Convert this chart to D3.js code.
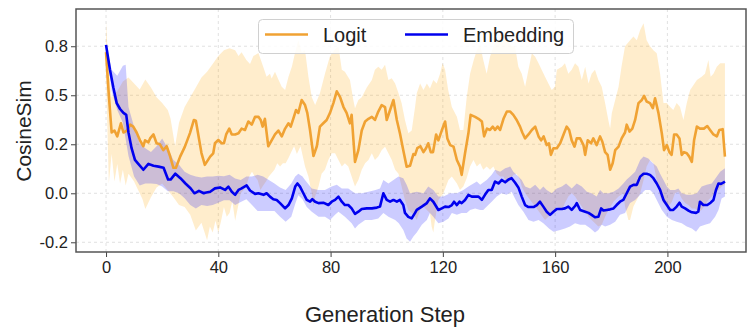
<!DOCTYPE html>
<html><head><meta charset="utf-8">
<script src="https://cdn.jsdelivr.net/npm/d3@7"></script>
<style>
html,body{margin:0;padding:0;background:#fff;}
text{font-family:"Liberation Sans",Arial,Helvetica,sans-serif;fill:#222;}
</style></head>
<body><svg id="chart" width="747" height="328"></svg>
<script>
// ---------- DATA ----------
const seriesNames = ["Logit", "Embedding"];
const xTicks = [0, 40, 80, 120, 160, 200];
const yTicks = [0.75, 0.5, 0.25, 0, -0.25];
const yTickLabels = ["0.8", "0.5", "0.2", "0.0", "-0.2"];

// Logit mean
const logitStep = [0,1,2,3,4,5.3,6.2,7.4,8.6,9.7,10.9,12.1,13.3,13.9,15.1,15.7,16.9,18,19.2,20.4,21.6,22.8,24,24.9,26.4,28.1,29.9,31.3,32,34,35.2,37.1,38.2,38.8,40,41.2,42,42.8,43.9,44.8,46,47.2,48.3,49.5,50.7,51.9,53.1,54.3,55.1,55.8,56.6,57.8,59,60.2,61.4,62.6,63.8,65,65.8,66.7,67.7,68.5,69.7,70.9,71.7,72.7,73.9,75.1,76.2,77.4,78.6,79.8,81,82.2,83.4,84.6,85.7,86.9,87.5,88.7,89.9,91.1,92.3,93.5,94.7,95.8,97,98.2,99.4,100,101.2,102.4,103.6,104.7,105.9,107.1,108.3,109.5,110.1,110.9,112,113.1,114,114.8,115.7,116.5,117.6,118.4,119.6,120.8,121.6,122.6,123.8,125,126.1,126.7,127.9,129.1,129.9,131.5,132.7,133.9,134.7,135.7,136.8,137.8,138.6,139.5,140.4,141.6,142.8,144,145.1,146.3,147.5,148.3,149.3,150.5,151.7,152.9,154.1,155,155.9,157,157.8,158.5,159.4,160.6,161.8,163,164.1,165,165.9,166.9,167.7,168.9,170.1,170.7,171.6,172.8,173.6,174.8,176,176.8,177.8,178.7,179.6,180.5,181.4,182.6,183.7,184.9,185.5,186.5,187.5,188.5,189.7,190.9,191.7,192.6,193.8,194.8,195.6,196.8,198,198.8,199.8,200.7,201.5,202.4,203.3,204.3,205.1,205.9,206.9,207.8,208.7,209.5,210.5,211.6,213,214.2,215.2,216.4,217.6,218.5,219.7,220.5];
const logitMean = [0.72,0.50,0.31,0.32,0.29,0.357,0.31,0.32,0.35,0.34,0.31,0.27,0.24,0.27,0.26,0.28,0.30,0.255,0.25,0.22,0.24,0.19,0.13,0.13,0.187,0.238,0.307,0.374,0.37,0.205,0.145,0.187,0.204,0.255,0.272,0.255,0.255,0.30,0.33,0.30,0.30,0.306,0.33,0.323,0.366,0.35,0.39,0.39,0.374,0.34,0.38,0.24,0.27,0.30,0.32,0.29,0.33,0.357,0.34,0.38,0.425,0.41,0.476,0.45,0.41,0.32,0.19,0.24,0.34,0.357,0.374,0.41,0.46,0.52,0.49,0.44,0.41,0.357,0.40,0.16,0.22,0.32,0.366,0.38,0.39,0.374,0.417,0.45,0.44,0.374,0.425,0.476,0.374,0.306,0.22,0.136,0.14,0.2,0.196,0.23,0.24,0.21,0.23,0.255,0.21,0.21,0.30,0.27,0.32,0.366,0.28,0.246,0.238,0.17,0.136,0.094,0.204,0.306,0.40,0.39,0.38,0.366,0.29,0.33,0.323,0.34,0.323,0.34,0.323,0.38,0.417,0.417,0.40,0.374,0.34,0.31,0.28,0.30,0.323,0.34,0.29,0.27,0.29,0.246,0.255,0.196,0.23,0.23,0.255,0.30,0.34,0.323,0.27,0.238,0.28,0.28,0.246,0.196,0.27,0.255,0.28,0.246,0.29,0.264,0.21,0.196,0.12,0.153,0.22,0.238,0.28,0.31,0.35,0.315,0.33,0.374,0.46,0.476,0.497,0.468,0.46,0.434,0.485,0.41,0.306,0.22,0.246,0.21,0.196,0.30,0.30,0.28,0.196,0.21,0.204,0.187,0.16,0.27,0.34,0.33,0.33,0.343,0.323,0.30,0.29,0.323,0.327,0.187];

// Logit band (upper / lower)
const logitHiStep = [0,1,2,4,6,8,10,12,14,16,18,20,22,23,24.6,26,28,30,32,34,36,38,40,42,44,46,47.2,48.3,50,51.3,52.5,54.3,56,57.2,58.4,59,60.2,61.4,62.6,63.8,65,66.2,67.3,68.5,69.7,70.9,72.1,73.3,74.5,76.2,78,79.8,81.6,82.8,84,85.1,86.9,88.1,88.7,89.9,91.1,92.9,94.7,95.8,97,98.2,99.4,100.6,101.8,103,104.2,105.3,106.5,107.7,108.9,110.1,110.7,111.9,113.1,114.3,115.4,116.6,117.8,119,119.9,120.8,121.9,123.2,125,126.1,127.3,128.5,129.7,131,132.1,133.3,134.4,135.6,136.8,138,139.2,141,142.8,144.5,145.7,146.9,148.1,149.3,150.5,151.7,152.9,154.1,155.2,156.4,157.6,158.8,159.9,160.6,162.4,163.5,164.7,165.9,167.1,168.3,169.5,170.7,171.9,173,174.2,175.4,176.6,177.8,179,179.6,180.2,181.4,182.6,183.7,184.9,186.7,187.9,189.1,190.3,191.5,192.6,193.8,195,196.2,197.4,198.6,199.8,201,202.1,203.3,204.5,205.7,206.9,208.1,210.5,212.2,213.4,214.6,215.4,216.4,217.6,218.8,220.5];
const logitHi = [0.875,0.62,0.49,0.52,0.57,0.59,0.56,0.53,0.58,0.54,0.49,0.46,0.425,0.38,0.24,0.36,0.44,0.49,0.54,0.59,0.62,0.66,0.70,0.73,0.74,0.73,0.70,0.72,0.68,0.66,0.70,0.715,0.646,0.595,0.61,0.585,0.62,0.58,0.544,0.527,0.595,0.646,0.714,0.78,0.72,0.73,0.595,0.49,0.45,0.51,0.61,0.70,0.735,0.75,0.63,0.62,0.578,0.476,0.434,0.476,0.49,0.54,0.578,0.63,0.646,0.63,0.655,0.578,0.587,0.56,0.51,0.46,0.374,0.306,0.32,0.44,0.51,0.56,0.527,0.56,0.535,0.578,0.56,0.61,0.663,0.63,0.527,0.44,0.39,0.323,0.323,0.49,0.61,0.68,0.73,0.757,0.68,0.61,0.697,0.75,0.78,0.8,0.78,0.75,0.75,0.646,0.61,0.544,0.63,0.714,0.697,0.663,0.63,0.595,0.56,0.527,0.544,0.63,0.646,0.663,0.61,0.63,0.663,0.646,0.578,0.646,0.56,0.61,0.63,0.578,0.544,0.46,0.37,0.33,0.41,0.476,0.544,0.65,0.75,0.78,0.8,0.78,0.833,0.867,0.78,0.75,0.73,0.714,0.61,0.46,0.46,0.44,0.425,0.46,0.44,0.374,0.46,0.527,0.578,0.595,0.61,0.68,0.595,0.61,0.646,0.663,0.663];
const logitLoStep = [0,1,2,3,4,5,6,7,8,9,10,11,12,13,14,16,18,20,22,24,26,28,30,32,34,36,37,38,39,40,41,42,43,44,45,46,47,48,49,50,51,52,53,54,55,56,57,58,60,61,62,63,64,65,66,67,68,69.3,70.9,72.1,73.3,73.9,74.5,75.7,76.8,78,79.2,80.4,81.6,82.8,84,85.1,86.3,87.5,88.7,89.9,91.1,92.3,93.5,94.7,95.8,97,98.2,99.4,100.6,101.8,103,104.2,105.3,106.5,107.7,108.9,110.1,110.7,111.9,113.1,114.3,115.4,116,116.6,117.2,118.4,120.2,122,123.2,125,126.1,127.3,128.5,129.7,130.9,132.1,133.3,134.4,135.6,136.8,138,139.2,140.4,141.6,142.8,144,145.1,146.3,147.5,148.1,149.3,151.1,152.9,154.6,156.4,157.6,159.4,160.6,162.4,163.5,164.7,165.9,167.1,168.3,169.5,170.7,171.9,173,174.2,175.4,176.6,177.8,179,180.8,182.6,184.3,184.9,186.1,186.7,187.9,189.1,190.3,191.5,192.6,193.8,195,196.2,197.4,198.6,200.4,201.6,202.7,203.9,205.1,206.3,207.5,208.7,209.9,211.1,212.2,213.4,214.6,215.8,217,218.2,219.4,220.5];
const logitLo = [0.6,0.05,0.2,0.06,0.15,0.05,0.12,0.04,0.1,0.08,0.06,0.03,0.0,-0.03,-0.08,-0.02,0.03,0.05,0.015,-0.02,-0.06,-0.07,-0.11,-0.19,-0.15,-0.24,-0.17,-0.2,-0.14,-0.2,-0.14,-0.07,-0.12,-0.1,-0.04,-0.14,-0.07,0,0.017,0.04,0.085,0.11,0.085,0.068,0.017,0.04,0.06,0.085,0.12,0.153,0.136,0.153,0.153,0.18,0.21,0.24,0.2,0.24,0.136,0.085,0,-0.068,-0.017,0.034,0.1,0.12,0.17,0.204,0.204,0.17,0.136,0.153,0.136,0.085,0.034,0.068,0.12,0.153,0.17,0.204,0.17,0.187,0.22,0.238,0.204,0.17,0.12,0.1,0.034,-0.034,-0.085,-0.1,-0.12,-0.136,-0.085,-0.068,-0.085,-0.1,-0.17,-0.2,-0.136,-0.034,0,0.068,0.085,0.05,0.017,0.034,0.077,0.136,0.17,0.136,0.153,0.12,0.136,0.12,0.136,0.1,0.085,0.085,0.05,0.068,0.094,0.1,0.068,0.034,0,-0.034,-0.068,-0.1,-0.136,-0.12,-0.1,-0.068,-0.085,-0.05,-0.017,0,-0.017,-0.043,-0.068,-0.094,-0.12,-0.136,-0.153,-0.17,-0.16,-0.12,-0.085,-0.043,-0.017,0.0,-0.068,-0.136,-0.136,-0.068,-0.034,0,0.068,0.136,0.17,0.153,0.068,-0.017,-0.05,-0.068,-0.043,0,0.008,-0.026,-0.05,-0.06,-0.077,-0.077,-0.094,-0.085,-0.06,-0.034,-0.017,0,0.017,0.034,0.043];

// Embedding mean
const embStep = [0,1.4,2.6,3.8,5,6.2,7.2,8,9.1,10.3,11.5,13.3,15.1,16.9,18.7,20.5,22.1,23,24.7,26.5,28.3,30.1,31.5,33.1,34.8,35.3,37.1,38.8,40.6,42.4,43.6,44.8,46,47.2,48.3,50.1,51.3,53.1,54.3,56.1,57.2,58.4,59.6,60.8,62,63.8,65,66.2,67.4,68.2,69.1,70.3,71.5,72.7,73.5,74.5,75.7,77.4,79.2,80.4,81.6,82.8,84,85.1,86.3,87.5,88.7,89.9,91.1,92.9,94.7,96.5,97.6,98.8,100,101.2,102.4,103.6,104.7,105.9,106.5,107.7,108.9,110.1,110.7,112.5,114.3,115.4,116.6,118.4,119.6,120.8,122,123.2,124,125,125.9,126.7,127.9,129.1,130.3,131.5,132.7,133.9,135,136.2,137.4,138.6,139.8,141,142.2,143.4,144.5,145.7,146.9,148.1,149.3,150.5,152.3,153.5,154.6,155.8,157,158.2,159.4,160.6,162.4,163.5,164.7,165.9,167.1,167.7,168.9,170.7,171.9,173,174.2,175.4,176.4,177.2,178.4,179.6,180.8,181.9,183.1,184.3,185.5,186.7,187.9,189.1,190.3,191.5,192.6,193.8,195,196.2,197.4,198.6,199.8,201,202.1,203.3,204.3,205.1,206.3,207.5,208.7,210.2,211,211.6,212.8,214.2,215.4,216.4,217.3,218.2,219.1,219.9,220.5];
const embMean = [0.757,0.63,0.54,0.46,0.43,0.41,0.40,0.31,0.23,0.17,0.15,0.12,0.15,0.14,0.136,0.13,0.07,0.07,0.10,0.077,0.05,0.026,0.0,0.012,0.0,0.003,0.008,0.025,0.03,0.017,0.034,0.008,-0.008,0.017,0.025,0.04,0.014,-0.003,0,-0.008,0,-0.017,-0.03,-0.034,-0.05,-0.077,-0.06,-0.026,0.034,0.05,0.034,0,-0.034,-0.043,-0.03,-0.043,-0.05,-0.048,-0.06,-0.043,-0.034,-0.017,-0.043,-0.06,-0.06,-0.077,-0.105,-0.094,-0.08,-0.077,-0.077,-0.073,-0.068,0.0,-0.034,-0.043,-0.034,-0.043,-0.034,-0.06,-0.1,-0.12,-0.128,-0.1,-0.085,-0.068,-0.05,-0.026,-0.043,-0.085,-0.077,-0.068,-0.07,-0.06,-0.043,-0.06,-0.043,-0.05,-0.034,-0.008,-0.017,-0.017,-0.017,-0.034,-0.008,0.017,0.017,0.06,0.05,0.068,0.056,0.07,0.077,0.055,0.03,-0.017,-0.06,-0.07,-0.07,-0.06,-0.043,-0.068,-0.094,-0.11,-0.094,-0.08,-0.08,-0.077,-0.068,-0.085,-0.065,-0.05,-0.085,-0.094,-0.1,-0.11,-0.122,-0.12,-0.077,-0.088,-0.085,-0.082,-0.077,-0.06,-0.043,-0.034,0,0.034,0.043,0.043,0.085,0.1,0.1,0.094,0.077,0.05,0.017,-0.034,-0.06,-0.085,-0.085,-0.068,-0.048,-0.068,-0.077,-0.088,-0.097,-0.1,-0.094,-0.043,-0.06,-0.06,-0.048,-0.034,0.017,0.05,0.048,0.054,0.06];

// Embedding band (upper / lower)
const embHiStep = [0,2,4,6,7,8,10,12,14,16,18,20,22,24,26,28,30,32,34,36,38,40,42,44,46,48,50,52,54,56,58,60,62,64,66,67.4,68.5,70,70.9,73.3,75.7,78,80.4,82.2,84,86.3,88.7,91.1,93.5,96,97.6,98.8,100.6,102.4,104.2,105.9,107.1,108.3,110.7,113.1,114.8,116.6,118.4,120.2,122.6,125,127.3,129.1,130.9,132.1,133.3,135.6,137.4,138.6,140.4,142.2,144,145.1,146.9,148.1,149.3,151.1,152.9,154.6,155.8,157,158.8,160.6,162.4,163.9,165.9,167.7,169.5,171.3,173,174.8,176,177.2,179,180.8,182.6,184.3,185.5,186.7,188.5,190.3,191.5,193.2,194.4,196.2,197.4,198.6,199.8,201,202.7,203.9,205.1,206.9,208.7,210.5,212.2,214,215.8,217.6,218.8,220.5];
const embHi = [0.76,0.63,0.60,0.65,0.655,0.44,0.34,0.255,0.23,0.21,0.24,0.28,0.23,0.17,0.145,0.11,0.094,0.085,0.08,0.085,0.085,0.09,0.087,0.094,0.075,0.068,0.085,0.085,0.094,0.085,0.068,0.05,0.03,0.017,0.05,0.085,0.1,0.085,0.068,0.025,0.017,0.017,0.034,0.043,0.025,0.025,0,0,0.008,0.017,0.025,0.068,0.05,0.068,0.085,0.077,0.043,0.0,0.008,0,0.034,0.017,-0.017,-0.017,0,0,0.017,0.034,0.05,0.06,0.043,0.068,0.094,0.12,0.11,0.128,0.136,0.11,0.085,0.068,0.034,0.025,0.043,0.017,0.034,0.017,0,0.025,0.034,0.05,0.025,0.05,0.034,0.008,0,-0.017,0.017,0,0,0.008,0.025,0.05,0.07,0.085,0.11,0.17,0.187,0.178,0.16,0.136,0.1,0.068,0.034,0.017,0.017,0.025,0,-0.008,-0.008,0,0.034,0.043,0.05,0.085,0.11,0.128];
const embLoStep = [0,2,4,6,8,10,12,14,16,18,20,22,24,26,28,30,32,34,36,38,40,42,44,46,48,50,52,54,56,58,60,62,64,66,67.5,68.5,70,71.5,73.3,75.7,78,79.8,81.6,82.8,85.1,87.5,88.7,89.9,92.3,94.7,97,98.8,100.6,103,104.3,105.9,107.1,108.3,109.5,110.7,112.5,114.3,115.4,116.6,118.4,120.2,122,123.2,125,126.7,128.5,129.7,131.5,133.3,134.4,136.2,137.4,139.2,140.9,142.7,144.5,145.7,146.9,148.7,150.5,152.3,154.1,155.8,157.8,159.4,161.8,163.5,165.3,167.1,168.9,170.7,172.5,174.2,175.4,176.6,177.8,179.6,181.4,183.1,184.9,186.7,188.5,190.3,192.1,193.8,195,196.2,198,199.8,201.6,203.3,205.1,206.9,208.7,210.2,211.6,213.4,215.2,217,218.2,219.3,220.5];
const embLo = [0.76,0.52,0.425,0.36,0.19,0.085,0.04,0.05,0.05,0.047,0.034,0.01,0.01,0,-0.025,-0.06,-0.077,-0.06,-0.065,-0.06,-0.048,-0.035,-0.035,-0.06,-0.045,-0.03,-0.06,-0.09,-0.09,-0.09,-0.09,-0.12,-0.145,-0.12,-0.05,-0.01,-0.03,-0.07,-0.094,-0.12,-0.12,-0.136,-0.11,-0.094,-0.12,-0.153,-0.18,-0.16,-0.136,-0.136,-0.128,-0.1,-0.12,-0.136,-0.153,-0.187,-0.23,-0.247,-0.22,-0.2,-0.16,-0.136,-0.1,-0.12,-0.153,-0.145,-0.128,-0.1,-0.11,-0.1,-0.1,-0.085,-0.077,-0.085,-0.085,-0.06,-0.043,-0.017,0,-0.008,0.008,-0.026,-0.06,-0.094,-0.136,-0.145,-0.136,-0.153,-0.18,-0.196,-0.187,-0.18,-0.17,-0.153,-0.16,-0.16,-0.178,-0.2,-0.187,-0.16,-0.17,-0.16,-0.145,-0.11,-0.1,-0.05,-0.034,-0.008,0.017,0.017,0,-0.034,-0.085,-0.12,-0.136,-0.145,-0.153,-0.17,-0.18,-0.196,-0.17,-0.16,-0.153,-0.12,-0.085,-0.026,-0.017];

const colors = {logit: "#F0A233", emb: "#0000EE"};

// ---------- CHART ----------
const svg = d3.select("#chart");
const L = 76, R = 746, T = 9, B = 252;
const x = d3.scaleLinear().domain([-10.7, 228]).range([L, R]);
const y = d3.scaleLinear().domain([-0.2995, 0.940]).range([B, T]);

// grid
const grid = svg.append("g");
grid.selectAll("line.gx").data(xTicks).join("line")
  .attr("x1", d => x(d)).attr("x2", d => x(d)).attr("y1", T).attr("y2", B)
  .attr("stroke", "#d9d9d9").attr("stroke-width", 0.8).attr("stroke-dasharray", "3,3");
grid.selectAll("line.gy").data(yTicks).join("line")
  .attr("x1", L).attr("x2", R).attr("y1", d => y(d)).attr("y2", d => y(d))
  .attr("stroke", "#d9d9d9").attr("stroke-width", 0.8).attr("stroke-dasharray", "3,3");

const zip = (xs, ys) => xs.map((s, i) => [s, ys[i]]);
const lineGen = d3.line().x(d => x(d[0])).y(d => y(d[1]));
function bandPath(hs, hv, ls, lv) {
  const pts = zip(hs, hv).concat(zip(ls, lv).reverse());
  return lineGen(pts) + "Z";
}

svg.append("path").attr("d", bandPath(logitHiStep, logitHi, logitLoStep, logitLo))
  .attr("fill", "#FFA500").attr("fill-opacity", 0.2);
svg.append("path").attr("d", bandPath(embHiStep, embHi, embLoStep, embLo))
  .attr("fill", "#0000FF").attr("fill-opacity", 0.2);

svg.append("path").datum(zip(logitStep, logitMean)).attr("d", lineGen)
  .attr("fill", "none").attr("stroke", colors.logit).attr("stroke-width", 2.6)
  .attr("stroke-linejoin", "round");
svg.append("path").datum(zip(embStep, embMean)).attr("d", lineGen)
  .attr("fill", "none").attr("stroke", colors.emb).attr("stroke-width", 2.6)
  .attr("stroke-linejoin", "round");

// axes
const xAxis = svg.append("g").attr("transform", `translate(0,${B})`)
  .call(d3.axisBottom(x).tickValues(xTicks).tickSize(5).tickPadding(4).tickFormat(d3.format("d")));
const yAxis = svg.append("g").attr("transform", `translate(${L},0)`)
  .call(d3.axisLeft(y).tickValues(yTicks).tickSize(5).tickPadding(3).tickFormat((d, i) => yTickLabels[i]));
[xAxis, yAxis].forEach(g => {
  g.select(".domain").remove();
  g.selectAll(".tick line").attr("stroke", "#444").attr("stroke-width", 1);
  g.selectAll(".tick text").attr("font-size", "16.5px").attr("fill", "#222")
    .attr("font-family", "Liberation Sans, Arial, sans-serif");
});

// frame
svg.append("rect").attr("x", L).attr("y", T).attr("width", R - L).attr("height", B - T)
  .attr("fill", "none").attr("stroke", "#555").attr("stroke-width", 1.5);

// axis titles
svg.append("text").attr("transform", "translate(31,131) rotate(-90)")
  .attr("text-anchor", "middle").attr("font-size", "21px").text("CosineSim");
svg.append("text").attr("x", 385).attr("y", 322)
  .attr("text-anchor", "middle").attr("font-size", "22px").text("Generation Step");

// legend
const lg = svg.append("g");
lg.append("rect").attr("x", 258.5).attr("y", 19.5).attr("width", 315).attr("height", 34)
  .attr("rx", 4).attr("fill", "#fff").attr("fill-opacity", 0.85)
  .attr("stroke", "#d0d0d0").attr("stroke-width", 1);
const items = [
  {name: seriesNames[0], color: colors.logit, x0: 265, tx: 323},
  {name: seriesNames[1], color: colors.emb, x0: 405, tx: 463}
];
items.forEach(it => {
  lg.append("line").attr("x1", it.x0).attr("x2", it.x0 + 43).attr("y1", 34.5).attr("y2", 34.5)
    .attr("stroke", it.color).attr("stroke-width", 2.6);
  lg.append("text").attr("x", it.tx).attr("y", 41.5).attr("font-size", "20px").text(it.name);
});
</script></body></html>
